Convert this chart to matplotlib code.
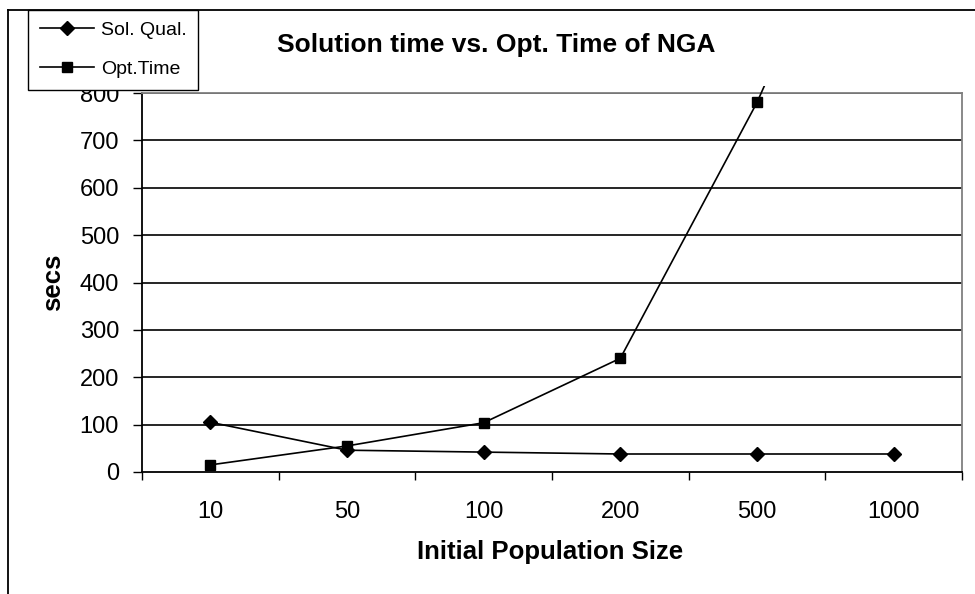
import matplotlib
matplotlib.use("Agg")
import matplotlib.pyplot as plt
from matplotlib.patches import Rectangle
from matplotlib.lines import Line2D

plt.rcParams['font.family'] = ['Liberation Sans', 'DejaVu Sans']

categories = ["10", "50", "100", "200", "500", "1000"]
sol_qual = [105, 46, 42, 38, 38, 38]
opt_time = [15, 55, 104, 240, 780, 1430]
y_ticks = [0, 100, 200, 300, 400, 500, 600, 700, 800]

W, H = 975, 594
fig = plt.figure(figsize=(W / 100, H / 100), dpi=100)
fig.patch.set_facecolor('white')

ax = fig.add_axes([142 / W, 1 - 472 / H, 820 / W, 379 / H])
x = list(range(len(categories)))

ax.set_xlim(-0.5, len(categories) - 0.5)
ax.set_ylim(0, 800)

for v in y_ticks[1:]:
    ax.axhline(v, color='black', lw=1.2, zorder=1)

l1, = ax.plot(x, sol_qual, color='black', lw=1.2, marker='D', markersize=7.5,
              label='Sol. Qual.', zorder=3)
l2, = ax.plot(x, opt_time, color='black', lw=1.2, marker='s', markersize=7,
              label='Opt.Time', zorder=3)
clip = Rectangle((0, 0), 1, 1.018, transform=ax.transAxes, facecolor='none', edgecolor='none')
ax.add_patch(clip)
l2.set_clip_path(clip)

ax.set_yticks(y_ticks)
ax.set_yticklabels([str(v) for v in y_ticks], fontsize=17)
ax.tick_params(axis='y', direction='out', length=6.5, width=1, pad=10)

ax.set_xticks(x)
ax.set_xticklabels(categories, fontsize=17)
ax.tick_params(axis='x', which='major', length=0, pad=21)
ax.set_xticks([i - 0.5 for i in range(len(categories) + 1)], minor=True)
ax.tick_params(axis='x', which='minor', direction='out', length=6, width=1)

for s in ['left', 'bottom']:
    ax.spines[s].set_color('black')
    ax.spines[s].set_linewidth(1.3)
for s in ['top', 'right']:
    ax.spines[s].set_color('#808080')
    ax.spines[s].set_linewidth(1.3)

fig.text(496 / W, 1 - 45 / H, 'Solution time vs. Opt. Time of NGA', fontsize=19,
         fontweight='bold', ha='center', va='center')
fig.text(550 / W, 1 - 552 / H, 'Initial Population Size', fontsize=18.5,
         fontweight='bold', ha='center', va='center')
fig.text(53 / W, 1 - 282 / H, 'secs', fontsize=18.5, fontweight='bold',
         ha='center', va='center', rotation=90)

# outer chart border (left and top edges visible)
fig.add_artist(Line2D([8 / W, 8 / W], [0, 1 - 10 / H], transform=fig.transFigure,
                      color='black', lw=1.3))
fig.add_artist(Line2D([8 / W, 1], [1 - 10 / H, 1 - 10 / H], transform=fig.transFigure,
                      color='black', lw=1.3))

leg = fig.legend(handles=[l1, l2], loc='upper left', bbox_to_anchor=(28 / W, 1 - 10 / H),
                 bbox_transform=fig.transFigure, borderaxespad=0, fancybox=False,
                 edgecolor='black', framealpha=1, fontsize=14, handlelength=2.8,
                 handletextpad=0.35, labelspacing=1.1, borderpad=0.6)
leg.get_frame().set_linewidth(1.0)

fig.savefig('out.png', dpi=100, facecolor='white')
